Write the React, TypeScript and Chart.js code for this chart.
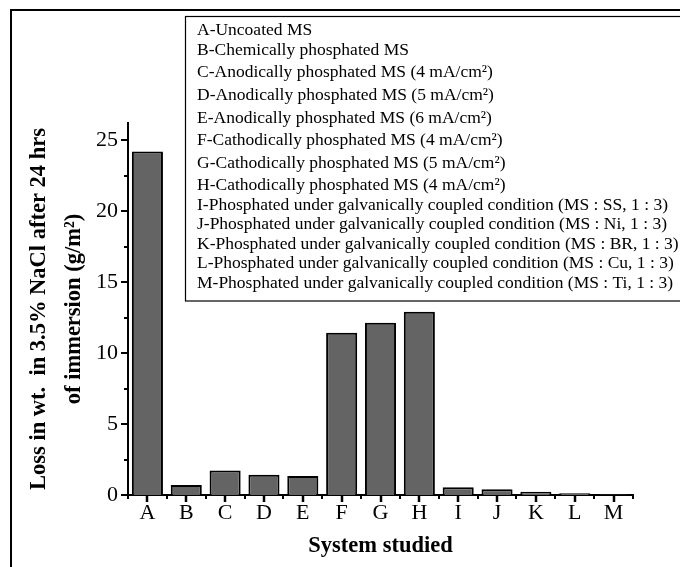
import React, { useEffect, useRef } from "react";
import { Chart, registerables } from "chart.js";

Chart.register(...registerables);

const categories = ["A", "B", "C", "D", "E", "F", "G", "H", "I", "J", "K", "L", "M"];
const lossValues = [24.2, 0.7, 1.72, 1.43, 1.34, 11.43, 12.13, 12.9, 0.54, 0.4, 0.23, 0.13, 0.05];
const yMin = 0;
const yMax = 26.2;
const yMajorStep = 5;
const yMinorStep = 2.5;
const yTitle = ["Loss in wt.  in 3.5% NaCl after 24 hrs", "of immersion (g/m²)"];
const xTitle = "System studied";
const legendLabels = [
  "A-Uncoated MS",
  "B-Chemically phosphated MS",
  "C-Anodically phosphated MS (4 mA/cm²)",
  "D-Anodically phosphated MS (5 mA/cm²)",
  "E-Anodically phosphated MS (6 mA/cm²)",
  "F-Cathodically phosphated MS (4 mA/cm²)",
  "G-Cathodically phosphated MS (5 mA/cm²)",
  "H-Cathodically phosphated MS (4 mA/cm²)",
  "I-Phosphated under galvanically coupled condition (MS : SS, 1 : 3)",
  "J-Phosphated under galvanically coupled condition (MS : Ni, 1 : 3)",
  "K-Phosphated under galvanically coupled condition (MS : BR, 1 : 3)",
  "L-Phosphated under galvanically coupled condition (MS : Cu, 1 : 3)",
  "M-Phosphated under galvanically coupled condition (MS : Ti, 1 : 3)",
];

const FONT = "'Liberation Serif', 'Times New Roman', serif";

const decorPlugin = {
  id: "decor",
  afterDraw(chart: any) {
    const ctx = chart.ctx;
    const xs = chart.scales.x;
    const ys = chart.scales.y;
    ctx.save();
    // outer frame
    ctx.strokeStyle = "#000";
    ctx.lineWidth = 2;
    ctx.strokeRect(11, 10, 720, 620);
    // y ticks
    const x0 = chart.chartArea.left;
    ctx.lineWidth = 2;
    for (let v = yMin; v <= yMax + 1e-9; v += yMinorStep) {
      const py = Math.round(ys.getPixelForValue(v));
      const major = Math.abs(v % yMajorStep) < 1e-9;
      const len = major ? 7 : 4;
      ctx.beginPath();
      ctx.moveTo(x0 - len, py);
      ctx.lineTo(x0, py);
      ctx.stroke();
    }
    // x ticks
    const y0 = chart.chartArea.bottom;
    ctx.lineWidth = 2.5;
    for (let i = 0; i < categories.length; i++) {
      const px = Math.round(xs.getPixelForValue(i));
      ctx.beginPath();
      ctx.moveTo(px, y0);
      ctx.lineTo(px, y0 + 7);
      ctx.stroke();
    }
    ctx.lineWidth = 2;
    for (let i = 0; i <= categories.length; i++) {
      const px = Math.round(xs.getPixelForValue(i - 0.5));
      ctx.beginPath();
      ctx.moveTo(px, y0);
      ctx.lineTo(px, y0 + 4);
      ctx.stroke();
    }
    // legend box
    ctx.lineWidth = 1.2;
    ctx.strokeRect(185.5, 16.5, 600, 284.5);
    ctx.fillStyle = "#000";
    ctx.font = `17.5px ${FONT}`;
    ctx.textBaseline = "middle";
    ctx.textAlign = "left";
    let ly = 30.7;
    legendLabels.forEach((t, i) => {
      if (i > 0) ly += t.includes("²") ? 22.6 : 19.5;
      ctx.fillText(t, 197, ly);
    });
    ctx.restore();
  },
};

export default function App() {
  const ref = useRef<HTMLCanvasElement>(null);
  useEffect(() => {
    if (!ref.current) return;
    const chart = new Chart(ref.current, {
      type: "bar",
      data: {
        labels: categories,
        datasets: [
          {
            data: lossValues,
            backgroundColor: "#646464",
            borderColor: "#000",
            borderWidth: 2,
            categoryPercentage: 1,
            barPercentage: 0.8,
          },
        ],
      },
      options: {
        animation: false,
        responsive: false,
        maintainAspectRatio: false,
        layout: { padding: { top: 123, right: 47, left: 0, bottom: 0 } },
        plugins: { legend: { display: false }, tooltip: { enabled: false } },
        scales: {
          x: {
            type: "category",
            offset: true,
            grid: { display: false, drawTicks: false },
            border: { display: true, color: "#000", width: 2 },
            ticks: { color: "#000", font: { family: FONT, size: 22 }, padding: 5, maxRotation: 0 },
            title: {
              display: true,
              text: xTitle,
              color: "#000",
              font: { family: FONT, size: 22.5, weight: "bold" },
              padding: { top: 0, bottom: 7 },
            },
            afterFit: (s: any) => {
              s.height = 72;
            },
          },
          y: {
            min: yMin,
            max: yMax,
            grid: { display: false, drawTicks: false },
            border: { display: true, color: "#000", width: 2 },
            ticks: {
              stepSize: yMajorStep,
              includeBounds: false,
              color: "#000",
              font: { family: FONT, size: 22 },
              padding: 10,
            },
            title: {
              display: true,
              text: yTitle,
              color: "#000",
              font: { family: FONT, size: 22.5, weight: "bold", lineHeight: 1.56 },
              padding: { top: 22, bottom: 0 },
            },
            afterFit: (s: any) => {
              s.width = 128;
            },
          },
        },
      } as any,
      plugins: [decorPlugin],
    });
    return () => chart.destroy();
  }, []);
  return (
    <div style={{ position: "absolute", left: 0, top: 0, width: 680, height: 567, background: "#fff" }}>
      <canvas ref={ref} width={680} height={567} style={{ width: 680, height: 567 }} />
    </div>
  );
}
